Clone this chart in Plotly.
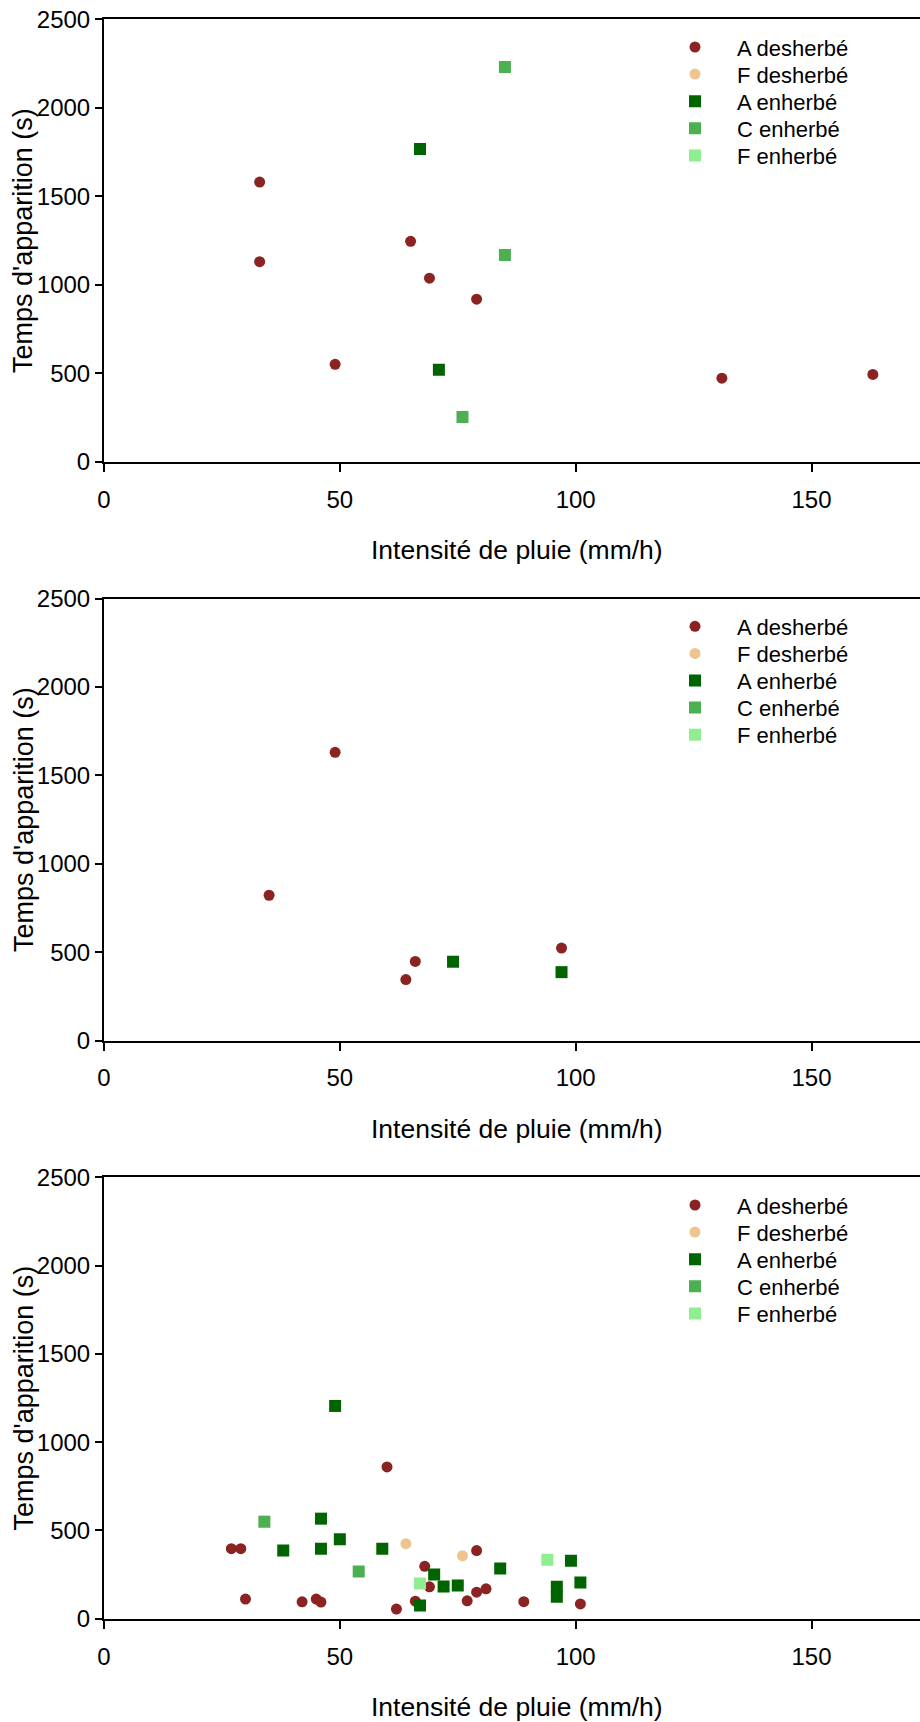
import plotly.graph_objects as go

FONT = "Liberation Sans, Arial, sans-serif"

series_names = ["A desherbé", "F desherbé", "A enherbé", "C enherbé", "F enherbé"]
series_colors = ["#8B2323", "#EEC591", "#006400", "#4CAF50", "#90EE90"]
series_symbols = ["circle", "circle", "square", "square", "square"]
series_sizes = [11, 11, 12, 12, 12]

x_ticks = [0, 50, 100, 150]
y_ticks = [0, 500, 1000, 1500, 2000, 2500]

# Panel 1
p1_a_des_x = [33, 33, 49, 65, 69, 79, 131, 163]
p1_a_des_y = [1580, 1130, 550, 1245, 1037, 918, 472, 493]
p1_f_des_x = []
p1_f_des_y = []
p1_a_enh_x = [67, 71]
p1_a_enh_y = [1766, 520]
p1_c_enh_x = [85, 85, 76]
p1_c_enh_y = [2230, 1168, 253]
p1_f_enh_x = []
p1_f_enh_y = []

# Panel 2
p2_a_des_x = [35, 49, 64, 66, 97]
p2_a_des_y = [822, 1630, 345, 448, 523]
p2_f_des_x = []
p2_f_des_y = []
p2_a_enh_x = [74, 97]
p2_a_enh_y = [446, 387]
p2_c_enh_x = []
p2_c_enh_y = []
p2_f_enh_x = []
p2_f_enh_y = []

# Panel 3
p3_a_des_x = [27, 29, 30, 42, 45, 46, 60, 62, 66, 68, 69, 77, 79, 79, 81, 89, 101]
p3_a_des_y = [397, 397, 112, 96, 112, 95, 860, 55, 100, 297, 181, 102, 386, 151, 170, 97, 84]
p3_f_des_x = [64, 76]
p3_f_des_y = [425, 357]
p3_a_enh_x = [38, 46, 46, 49, 50, 59, 67, 70, 72, 75, 84, 96, 96, 99, 101]
p3_a_enh_y = [386, 567, 397, 1205, 450, 397, 76, 251, 183, 189, 285, 181, 125, 329, 205]
p3_c_enh_x = [34, 54]
p3_c_enh_y = [550, 268]
p3_f_enh_x = [67, 94]
p3_f_enh_y = [200, 334]

panels = [
    [(p1_a_des_x, p1_a_des_y), (p1_f_des_x, p1_f_des_y), (p1_a_enh_x, p1_a_enh_y),
     (p1_c_enh_x, p1_c_enh_y), (p1_f_enh_x, p1_f_enh_y)],
    [(p2_a_des_x, p2_a_des_y), (p2_f_des_x, p2_f_des_y), (p2_a_enh_x, p2_a_enh_y),
     (p2_c_enh_x, p2_c_enh_y), (p2_f_enh_x, p2_f_enh_y)],
    [(p3_a_des_x, p3_a_des_y), (p3_f_des_x, p3_f_des_y), (p3_a_enh_x, p3_a_enh_y),
     (p3_c_enh_x, p3_c_enh_y), (p3_f_enh_x, p3_f_enh_y)],
]

W, H = 920, 1722
plot_left = 104
x_max = 173
# pixel top / bottom for each panel's plot area
panel_px = [(19.2, 461.7), (598.5, 1040.6), (1177.2, 1618.8)]
legend_first = 28.0
legend_step = 27.1
legend_marker_x = 695

fig = go.Figure()
layout = dict(
    template="none",
    width=W, height=H, autosize=False,
    margin=dict(l=0, r=0, t=0, b=0, pad=0, autoexpand=False),
    paper_bgcolor="white", plot_bgcolor="white",
    font=dict(family=FONT, color="black", size=24),
    showlegend=True,
    hovermode=False,
    annotations=[],
)

for i, panel in enumerate(panels):
    sfx = "" if i == 0 else str(i + 1)
    top, bot = panel_px[i]
    for j, (xs, ys) in enumerate(panel):
        k = i * 5 + j + 1
        leg = "legend" if k == 1 else "legend" + str(k)
        px_ = xs if len(xs) else [None]
        py_ = ys if len(ys) else [None]
        fig.add_trace(go.Scatter(
            x=px_, y=py_, mode="markers", name=series_names[j],
            marker=dict(color=series_colors[j], symbol=series_symbols[j],
                        size=series_sizes[j], line=dict(width=0)),
            xaxis="x" + sfx, yaxis="y" + sfx, legend=leg, showlegend=True,
        ))
        row_y = top + legend_first + legend_step * j
        layout[leg] = dict(
            x=(legend_marker_x - 42) / W, xanchor="left",
            y=1 - row_y / H, yanchor="middle",
            bgcolor="rgba(0,0,0,0)", borderwidth=0, itemwidth=74,
            font=dict(size=22, family=FONT, color="black"),
        )
    ydom = [1 - bot / H, 1 - top / H]
    layout["xaxis" + sfx] = dict(
        domain=[plot_left / W, 1.0], range=[0, x_max], anchor="y" + sfx,
        tickvals=x_ticks, ticks="outside", ticklen=8, tickwidth=2, tickcolor="black",
        showline=True, linecolor="black", linewidth=2, mirror=True,
        showgrid=False, zeroline=False, ticklabelstandoff=7, automargin=False,
        tickfont=dict(size=24, family=FONT, color="black"),
    )
    layout["yaxis" + sfx] = dict(
        domain=ydom, range=[0, 2500], anchor="x" + sfx,
        tickvals=y_ticks, ticks="outside", ticklen=7, tickwidth=2, tickcolor="black",
        showline=True, linecolor="black", linewidth=2,
        showgrid=False, zeroline=False, automargin=False,
        tickfont=dict(size=24, family=FONT, color="black"),
    )
    # axis titles
    layout["annotations"].append(dict(
        text="Intensité de pluie (mm/h)", xref="paper", yref="paper",
        x=517 / W, y=1 - (bot + 88) / H,
        xanchor="center", yanchor="middle", showarrow=False,
        font=dict(size=26.5, family=FONT, color="black"),
    ))
    layout["annotations"].append(dict(
        text="Temps d'apparition (s)", xref="paper", yref="paper",
        x=23.5 / W, y=1 - ((top + bot) / 2) / H, textangle=-90,
        xanchor="center", yanchor="middle", showarrow=False,
        font=dict(size=27, family=FONT, color="black"),
    ))

fig.update_layout(**layout)
fig.write_html(
    "out.html",
    config={"displayModeBar": False},
    post_script="document.body.style.margin='0';document.body.style.padding='0';",
)
